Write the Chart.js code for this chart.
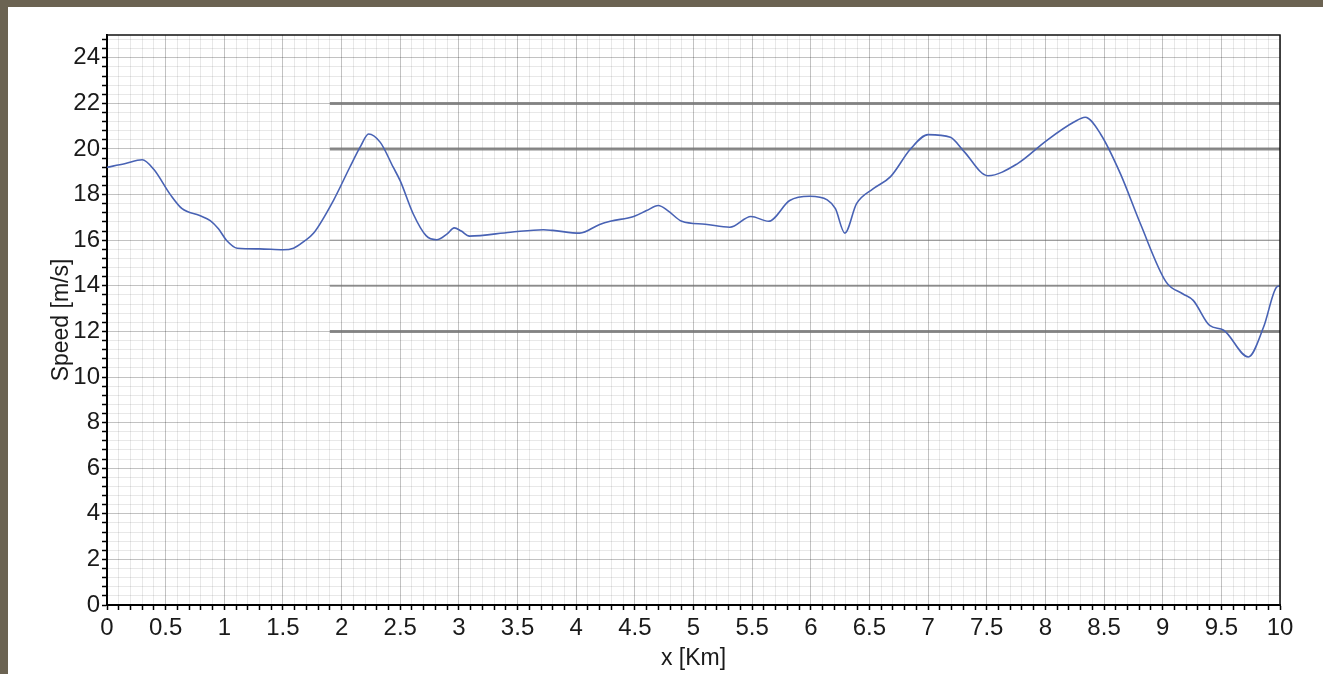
<!DOCTYPE html>
<html><head><meta charset="utf-8">
<script src="https://cdn.jsdelivr.net/npm/chart.js@4.4.1/dist/chart.umd.min.js"></script>
<style>
html,body{margin:0;padding:0;width:1323px;height:674px;overflow:hidden;background:#6b6352;}
#paper{position:absolute;left:8px;top:7px;right:0;bottom:0;background:#fff;}
#wrap{position:absolute;left:0;top:0;width:1323px;height:674px;}
</style></head><body>
<div id="paper"></div>
<div id="wrap"><canvas id="c" width="1323" height="674"></canvas></div>
<script>
// Distance along track (km)
const distanceKm = [0, 0.15, 0.3, 0.4, 0.54, 0.64, 0.79, 0.88, 0.95, 1.02, 1.11, 1.3, 1.5, 1.59, 1.68, 1.76,
  1.93, 2.07, 2.16, 2.23, 2.33, 2.44, 2.5, 2.61, 2.72, 2.81, 2.9, 2.96, 3.02, 3.09, 3.44, 3.72, 3.8,
  4.03, 4.2, 4.29, 4.49, 4.6, 4.7, 4.78, 4.9, 5.1, 5.31, 5.49, 5.64, 5.82, 5.99, 6.14, 6.21, 6.29,
  6.39, 6.53, 6.68, 6.85, 7.0, 7.19, 7.3, 7.51, 7.76, 8.01, 8.24, 8.34, 8.47, 8.64, 8.81, 9.03,
  9.17, 9.26, 9.4, 9.52, 9.73, 9.86, 9.97, 10.0];
// Speed (m/s)
const speedMs = [19.2, 19.35, 19.53, 19.1, 18.0, 17.38, 17.08, 16.86, 16.5, 15.99, 15.65, 15.62, 15.58, 15.65, 15.95, 16.3,
  17.74, 19.2, 20.1, 20.66, 20.29, 19.2, 18.6, 17.16, 16.2, 16.02, 16.28, 16.54, 16.4, 16.18, 16.35, 16.46, 16.43,
  16.31, 16.69, 16.83, 17.04, 17.3, 17.52, 17.3, 16.83, 16.7, 16.57, 17.04, 16.83, 17.74, 17.93, 17.77, 17.38, 16.31,
  17.6, 18.25, 18.79, 20.0, 20.63, 20.51, 19.93, 18.83, 19.35, 20.37, 21.17, 21.39, 20.66, 18.91, 16.72, 14.16,
  13.65, 13.36, 12.26, 12.05, 10.88, 12.19, 13.94, 14.0];
// Reference speed levels (m/s)
const refLevels = [12, 14, 16, 20, 22];
const refWidths = [3, 2, 1.5, 3, 3];
const refColors = ['rgba(120,120,120,0.85)', 'rgba(120,120,120,0.75)', 'rgba(120,120,120,0.5)', 'rgba(120,120,120,0.85)', 'rgba(120,120,120,0.85)'];
const refStartKm = 1.9;
const refEndKm = 10;
// Tick labels
const xTickLabels = ['0','0.5','1','1.5','2','2.5','3','3.5','4','4.5','5','5.5','6','6.5','7','7.5','8','8.5','9','9.5','10'];
const yTickLabels = ['0','2','4','6','8','10','12','14','16','18','20','22','24'];

const FONT = 'Arimo, "Liberation Sans", Arial, sans-serif';
const fmt = v => String(Number(v.toFixed(2)));
const MAJOR = 'rgba(0,0,0,0.24)';
const MINOR = 'rgba(0,0,0,0.09)';

const datasets = [{
  data: distanceKm.map((x, i) => ({x, y: speedMs[i]})),
  borderColor: '#4862b4',
  borderWidth: 1.6,
  pointRadius: 0,
  cubicInterpolationMode: 'monotone',
  fill: false
}];
refLevels.forEach((lv, i) => {
  datasets.push({
    data: [{x: refStartKm, y: lv}, {x: refEndKm, y: lv}],
    borderColor: refColors[i],
    borderWidth: refWidths[i],
    pointRadius: 0,
    fill: false
  });
});

const framePlugin = {
  id: 'frame',
  afterDatasetsDraw(chart) {
    const {ctx, chartArea: a} = chart;
    ctx.save();
    ctx.strokeStyle = '#111';
    ctx.lineWidth = 1.5;
    ctx.beginPath();
    ctx.moveTo(a.left, a.top);
    ctx.lineTo(a.right, a.top);
    ctx.lineTo(a.right, a.bottom);
    ctx.stroke();
    ctx.restore();
  }
};

new Chart(document.getElementById('c'), {
  type: 'line',
  data: {datasets},
  plugins: [framePlugin],
  options: {
    responsive: false,
    animation: false,
    layout: {padding: {left: 0, top: 35, right: 43, bottom: 0}},
    plugins: {legend: {display: false}, tooltip: {enabled: false}},
    scales: {
      x: {
        type: 'linear', min: 0, max: 10,
        afterFit: s => { s.height = 69; },
        ticks: {
          stepSize: 0.1, autoSkip: false, maxRotation: 0, minRotation: 0,
          padding: 4, color: '#1a1a1a', font: {family: FONT, size: 24},
          callback: v => xTickLabels.includes(fmt(v)) ? fmt(v) : ''
        },
        grid: {
          color: c => xTickLabels.includes(fmt(c.tick.value)) ? MAJOR : MINOR,
          lineWidth: 1, tickColor: '#000', tickLength: 5, tickWidth: 1.5
        },
        border: {color: '#000', width: 2},
        title: {display: true, text: 'x [Km]', color: '#1a1a1a', font: {family: FONT, size: 23}, padding: {top: 0, bottom: 2}}
      },
      y: {
        type: 'linear', min: 0, max: 25,
        afterFit: s => { s.width = 107; },
        ticks: {
          stepSize: 0.4, includeBounds: false, autoSkip: false,
          padding: 2, color: '#1a1a1a', font: {family: FONT, size: 24},
          callback: v => yTickLabels.includes(fmt(v)) ? fmt(v) : ''
        },
        grid: {
          color: c => yTickLabels.includes(fmt(c.tick.value)) ? MAJOR : MINOR,
          lineWidth: 1, tickColor: '#000', tickLength: 5, tickWidth: 1.5
        },
        border: {color: '#000', width: 2},
        title: {display: true, text: 'Speed [m/s]', color: '#1a1a1a', font: {family: FONT, size: 23}, padding: {top: 48, bottom: 0}}
      }
    }
  }
});
</script>
</body></html>
